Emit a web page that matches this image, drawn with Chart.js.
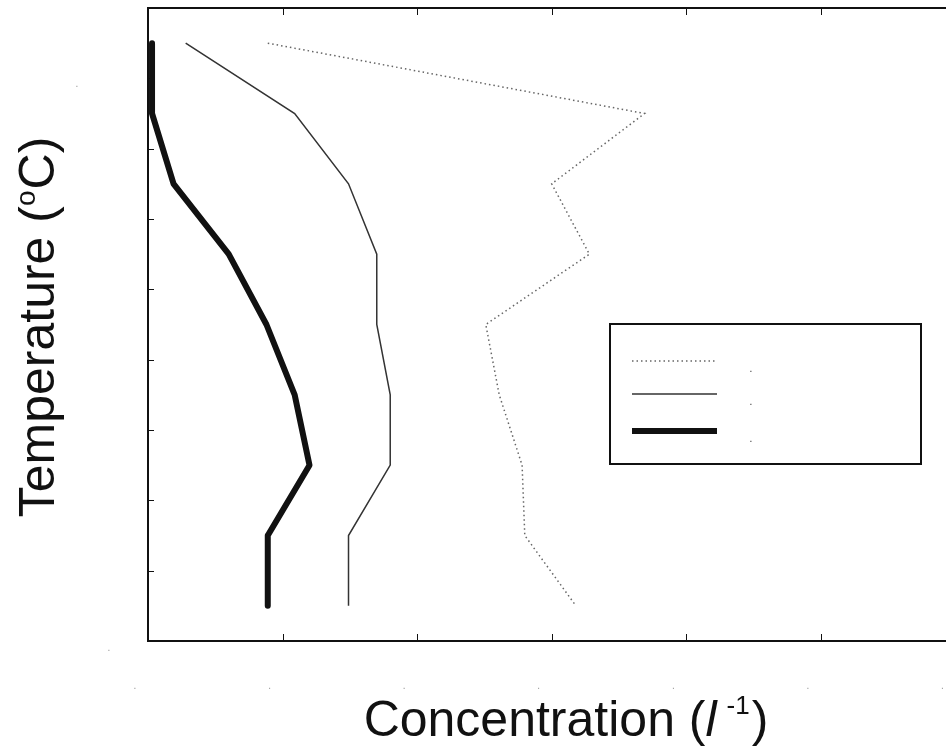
<!DOCTYPE html>
<html>
<head>
<meta charset="utf-8">
<script src="https://cdn.jsdelivr.net/npm/chart.js@4/dist/chart.umd.min.js"></script>
<style>
  html, body { margin: 0; padding: 0; background: #fff; overflow: hidden; }
  #wrap { width: 946px; height: 751px; }
</style>
</head>
<body>
<div id="wrap"><canvas id="c" width="946" height="751"></canvas></div>
<script>
// ---- data ----
const temperature = [8.5, 7.5, 6.5, 5.5, 4.5, 3.5, 2.5, 1.5, 0.5];
const seriesDotted = [0.89, 3.69, 3.00, 3.28, 2.51, 2.61, 2.78, 2.80, 3.18];
const seriesThin   = [0.28, 1.09, 1.49, 1.70, 1.70, 1.80, 1.80, 1.49, 1.49];
const seriesThick  = [0.03, 0.03, 0.19, 0.60, 0.88, 1.09, 1.20, 0.89, 0.89];
const seriesLabels = ['.', '.', '.'];
const xTickValues = [0, 1, 2, 3, 4, 5, 6];
const yTickValues = [0, 1, 2, 3, 4, 5, 6, 7, 8, 9];
const xTitle = 'Concentration (';
const yTitle = 'Temperature (';

const pts = arr => arr.map((v, i) => ({ x: v, y: temperature[i] }));

const FONT = '"Liberation Sans", Arial, sans-serif';

const decor = {
  id: 'decor',
  afterDatasetsDraw(chart) {
    const { ctx, chartArea: a, scales } = chart;
    const xs = scales.x, ys = scales.y;
    ctx.save();
    // axes frame (left, bottom, top)
    ctx.strokeStyle = '#111';
    ctx.lineWidth = 2;
    ctx.beginPath();
    ctx.moveTo(a.right, a.top); ctx.lineTo(a.left, a.top);
    ctx.lineTo(a.left, a.bottom); ctx.lineTo(a.right, a.bottom);
    ctx.stroke();
    // inward ticks
    ctx.lineWidth = 1;
    xTickValues.forEach(v => {
      const px = Math.round(xs.getPixelForValue(v)) + 0.5;
      if (px <= a.left + 2 || px >= a.right) return;
      ctx.beginPath();
      ctx.moveTo(px, a.bottom); ctx.lineTo(px, a.bottom - 7);
      ctx.moveTo(px, a.top); ctx.lineTo(px, a.top + 7);
      ctx.stroke();
    });
    yTickValues.forEach(v => {
      const py = Math.round(ys.getPixelForValue(v)) + 0.5;
      if (py <= a.top + 2 || py >= a.bottom - 2) return;
      ctx.beginPath();
      ctx.moveTo(a.left, py); ctx.lineTo(a.left + 6, py);
      ctx.stroke();
    });
    // faint tick label remnants
    ctx.fillStyle = '#999';
    ctx.font = '10px ' + FONT;
    ctx.textAlign = 'center';
    ctx.textBaseline = 'middle';
    xTickValues.forEach(v => {
      const px = xs.getPixelForValue(v);
      ctx.fillText('.', px - 13, 686);
    });
    ctx.fillText('.', a.left - 71, ys.getPixelForValue(8) + 6);
    ctx.fillText('.', a.left - 39, ys.getPixelForValue(0) + 7);

    // legend box
    const L = { x: 610, y: 324, w: 311, h: 140 };
    ctx.strokeStyle = '#111';
    ctx.lineWidth = 2;
    ctx.strokeRect(L.x, L.y, L.w, L.h);
    const rows = [37, 70, 107];
    chart.data.datasets.forEach((ds, i) => {
      const y = L.y + rows[i];
      ctx.save();
      ctx.strokeStyle = ds.borderColor;
      ctx.lineWidth = ds.borderWidth;
      ctx.setLineDash(ds.borderDash || []);
      ctx.lineCap = 'butt';
      ctx.beginPath();
      ctx.moveTo(L.x + 22, y); ctx.lineTo(L.x + 107, y);
      ctx.stroke();
      ctx.restore();
      ctx.fillStyle = '#333';
      ctx.font = '10px ' + FONT;
      ctx.textAlign = 'center';
      ctx.textBaseline = 'middle';
      ctx.fillText(ds.label, L.x + 141, y + 8);
    });

    // x axis title: Concentration (l -1)
    ctx.fillStyle = '#111';
    ctx.textBaseline = 'alphabetic';
    ctx.textAlign = 'left';
    const big = '50px ' + FONT, ital = 'italic 50px ' + FONT, small = '26px ' + FONT;
    ctx.font = big; const w1 = ctx.measureText(xTitle).width;
    ctx.font = ital; const w2 = ctx.measureText('l').width;
    ctx.font = small; const w3 = ctx.measureText('-1').width;
    ctx.font = big; const w4 = ctx.measureText(')').width;
    const gap = 10;
    const total = w1 + w2 + gap + w3 + 2 + w4;
    let x0 = 566 - total / 2;
    const base = 736;
    ctx.font = big; ctx.fillText(xTitle, x0, base); x0 += w1;
    ctx.font = ital; ctx.fillText('l', x0, base); x0 += w2 + gap;
    ctx.font = small; ctx.fillText('-1', x0, base - 22); x0 += w3 + 2;
    ctx.font = big; ctx.fillText(')', x0, base);

    // y axis title: Temperature (oC)
    ctx.save();
    ctx.translate(54, 327);
    ctx.rotate(-Math.PI / 2);
    ctx.font = big; const t1 = ctx.measureText(yTitle).width;
    const sm2 = '28px ' + FONT;
    ctx.font = sm2; const t2 = ctx.measureText('o').width;
    ctx.font = big; const t3 = ctx.measureText('C)').width;
    const tt = t1 + t2 + 1 + t3;
    let y0 = -tt / 2;
    ctx.font = big; ctx.fillText(yTitle, y0, 0); y0 += t1;
    ctx.font = sm2; ctx.fillText('o', y0, -19); y0 += t2 + 1;
    ctx.font = big; ctx.fillText('C)', y0, 0);
    ctx.restore();

    ctx.restore();
  }
};

new Chart(document.getElementById('c'), {
  type: 'line',
  data: {
    datasets: [
      { label: seriesLabels[0], data: pts(seriesDotted), borderColor: '#666', borderWidth: 1.5,
        borderDash: [1.5, 3], pointRadius: 0, tension: 0, fill: false },
      { label: seriesLabels[1], data: pts(seriesThin), borderColor: '#333', borderWidth: 1.5,
        pointRadius: 0, tension: 0, fill: false },
      { label: seriesLabels[2], data: pts(seriesThick), borderColor: '#111', borderWidth: 6,
        pointRadius: 0, tension: 0, fill: false, borderCapStyle: 'butt', borderJoinStyle: 'round' }
    ]
  },
  options: {
    responsive: false,
    animation: false,
    devicePixelRatio: 1,
    layout: { padding: { left: 148, top: 8, right: 0, bottom: 110 } },
    scales: {
      x: { type: 'linear', min: 0, max: 5.93, display: false },
      y: { type: 'linear', min: 0, max: 9, display: false }
    },
    plugins: { legend: { display: false }, tooltip: { enabled: false } },
    elements: { line: { borderCapStyle: 'butt' } }
  },
  plugins: [decor]
});
</script>
</body>
</html>
